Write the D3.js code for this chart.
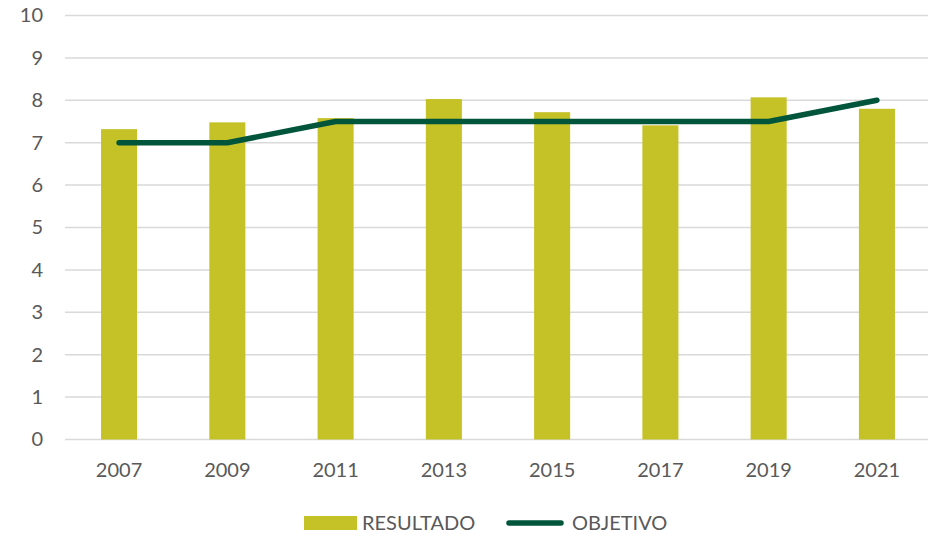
<html>
<head>
  <script src="https://d3js.org/d3.v7.min.js"></script>
  <style>
    body { margin: 0; background: #fff; }
    text { font-family: Lato, "Open Sans", sans-serif; fill: #595959; }
  </style>
</head>
<body>
  <div id="chart"></div>
  <script>
    const years = ["2007", "2009", "2011", "2013", "2015", "2017", "2019", "2021"];
    const resultado = [7.32, 7.48, 7.58, 8.03, 7.72, 7.41, 8.07, 7.80];
    const objetivo = [7, 7, 7.5, 7.5, 7.5, 7.5, 7.5, 8];
    const yTicks = [0, 1, 2, 3, 4, 5, 6, 7, 8, 9, 10];
    const seriesNames = ["RESULTADO", "OBJETIVO"];

    const w = 928, h = 534;
    const plotLeft = 65, plotRight = 931, plotTop = 15.5, plotBottom = 439.5;

    const svg = d3.select("#chart").append("svg")
      .attr("width", w).attr("height", h);

    const x = d3.scaleBand().domain(years).range([plotLeft, plotRight]).paddingInner(0.667).paddingOuter(0.333);
    const y = d3.scaleLinear().domain([0, 10]).range([plotBottom, plotTop]);

    // gridlines
    svg.append("g").selectAll("line")
      .data(yTicks)
      .enter().append("line")
      .attr("x1", plotLeft).attr("x2", plotRight)
      .attr("y1", d => y(d)).attr("y2", d => y(d))
      .attr("stroke", "#d9d9d9").attr("stroke-width", 1.5);

    // y axis labels
    const yAxis = d3.axisLeft(y).tickValues(yTicks).tickSize(0).tickPadding(0);
    svg.append("g")
      .attr("transform", "translate(43,0)")
      .call(yAxis)
      .call(g => g.select(".domain").remove())
      .call(g => g.selectAll("text").style("font-size", "20px").attr("fill", "#595959"));

    // x axis labels
    const xAxis = d3.axisBottom(x).tickSize(0).tickPadding(0);
    svg.append("g")
      .attr("transform", "translate(0,463)")
      .call(xAxis)
      .call(g => g.select(".domain").remove())
      .call(g => g.selectAll("text").style("font-size", "20px").attr("fill", "#595959"));

    // bars
    svg.append("g").selectAll("rect")
      .data(resultado)
      .enter().append("rect")
      .attr("x", (d, i) => x(years[i]))
      .attr("width", x.bandwidth())
      .attr("y", d => y(d))
      .attr("height", d => y(0) - y(d))
      .attr("fill", "#c5c228");

    // line
    const line = d3.line()
      .x((d, i) => x(years[i]) + x.bandwidth() / 2)
      .y(d => y(d));
    svg.append("path")
      .datum(objetivo)
      .attr("d", line)
      .attr("fill", "none")
      .attr("stroke", "#00553a")
      .attr("stroke-width", 5.5)
      .attr("stroke-linecap", "round")
      .attr("stroke-linejoin", "round");

    // legend
    const lg = svg.append("g");
    lg.append("rect")
      .attr("x", 304).attr("y", 516).attr("width", 53).attr("height", 14)
      .attr("fill", "#c5c228");
    lg.append("text")
      .attr("x", 362).attr("y", 523).attr("dy", "0.35em")
      .style("font-size", "20px").text(seriesNames[0]);
    lg.append("line")
      .attr("x1", 509).attr("x2", 561).attr("y1", 523).attr("y2", 523)
      .attr("stroke", "#00553a").attr("stroke-width", 5.5).attr("stroke-linecap", "round");
    lg.append("text")
      .attr("x", 572).attr("y", 523).attr("dy", "0.35em")
      .style("font-size", "20px").text(seriesNames[1]);
  </script>
</body>
</html>
